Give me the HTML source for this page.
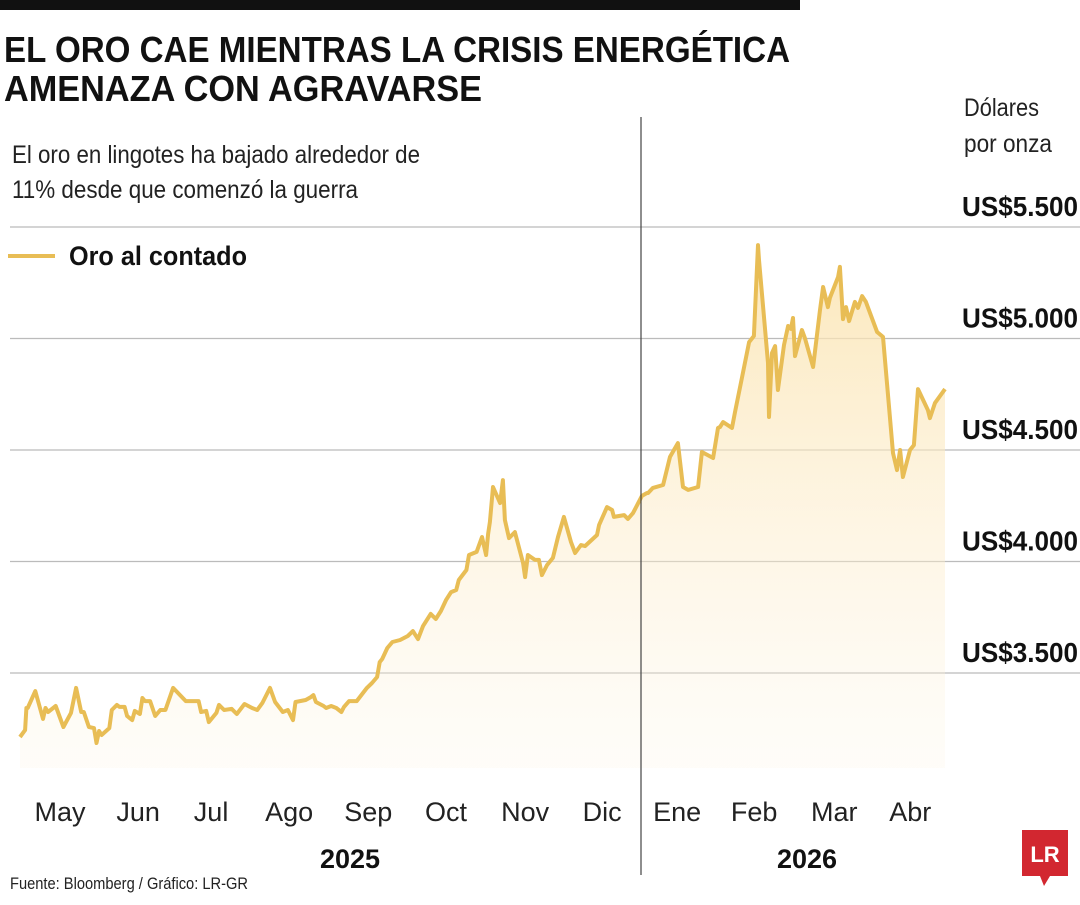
<!DOCTYPE html>
<html><head><meta charset="utf-8"><style>
body{margin:0;background:#fff;}
svg text{font-family:"Liberation Sans Narrow","Liberation Sans",sans-serif;}
</style></head><body>
<svg width="1080" height="900" viewBox="0 0 1080 900" xmlns="http://www.w3.org/2000/svg">
<defs>
<linearGradient id="fillg" x1="0" y1="0" x2="0" y2="1">
<stop offset="0" stop-color="#fbe3ae" stop-opacity="0.85"/>
<stop offset="1" stop-color="#fdf3df" stop-opacity="0.2"/>
</linearGradient>
</defs>
<rect x="0" y="0" width="800" height="10" fill="#111"/>
<text x="4" y="62" font-size="36" font-weight="bold" fill="#111" textLength="786" lengthAdjust="spacingAndGlyphs">EL ORO CAE MIENTRAS LA CRISIS ENERGÉTICA</text>
<text x="4" y="101" font-size="36" font-weight="bold" fill="#111" textLength="478" lengthAdjust="spacingAndGlyphs">AMENAZA CON AGRAVARSE</text>
<text x="12" y="163" font-size="25" fill="#222" textLength="408" lengthAdjust="spacingAndGlyphs">El oro en lingotes ha bajado alrededor de</text>
<text x="12" y="198" font-size="25" fill="#222" textLength="346" lengthAdjust="spacingAndGlyphs">11% desde que comenzó la guerra</text>
<text x="964" y="116" font-size="25" fill="#222" textLength="75" lengthAdjust="spacingAndGlyphs">Dólares</text>
<text x="964" y="152" font-size="25" fill="#222" textLength="88" lengthAdjust="spacingAndGlyphs">por onza</text>
<line x1="8" y1="256" x2="55" y2="256" stroke="#e8bd55" stroke-width="4"/>
<text x="69" y="265" font-size="27" font-weight="bold" fill="#111" textLength="178" lengthAdjust="spacingAndGlyphs">Oro al contado</text>
<g id="grid"></g>
<g id="area"></g>
<line x1="641" y1="117" x2="641" y2="875" stroke="#444" stroke-width="1.2"/>
<g id="months"></g>
<text x="350" y="868" font-size="27" font-weight="bold" fill="#111" text-anchor="middle">2025</text>
<text x="807" y="868" font-size="27" font-weight="bold" fill="#111" text-anchor="middle">2026</text>
<text x="10" y="889" font-size="17" fill="#222" textLength="238" lengthAdjust="spacingAndGlyphs">Fuente: Bloomberg / Gráfico: LR-GR</text>
<g>
<rect x="1022" y="830" width="46" height="46" fill="#d22730"/>
<polygon points="1040,876 1050,876 1044,886" fill="#d22730"/>
<text x="1045" y="862" font-size="22" font-weight="bold" fill="#fff" text-anchor="middle" font-family="Liberation Serif,serif">LR</text>
</g>
</svg>
<script>
const days=[0,2,2.5,3,6,9,10,11,14,17,20,22,24,25,27,29,30,31,32,35,36,38,39,41,42,44,45,47,48,49,51,53,55,57,60,65,70,71,73,74,77,78,80,83,85,88,91,93,95,98,100,103,105,107,108,112,114,115,116,119,120,122,124,126,127,129,132,136,138,140,141,142,144,146,149,152,154,156,158,161,163,165,167,169,171,172,175,176,179,181.1,182.7,183.5,184.2,185.4,188.2,189.3,190.1,191.7,194,197.2,198,199.1,201.9,203.4,204.6,206.6,208.9,210.9,213.2,216,217.6,219.9,221.5,226.2,227,230.1,232.1,232.8,236.8,238.3,240.3,243.8,245.8,246.2,248.1,252.1,254.8,257.9,259.9,261.9,265.8,267.3,271.7,273.6,274.4,275.6,279.1,280.3,283,285.8,287.7,289.3,289.7,293.2,293.6,294.8,296,297.1,299.5,301.1,302.2,303,303.8,306.5,307.7,310.9,313.6,314.8,316.7,317.5,320.7,321.4,322.6,323.8,325,327.3,328.5,330.1,331.6,336,338.3,342.2,343.8,345,346.1,348.9,350.4,352,355.9,356.7,358.7,362.6];
const prices=[3213,3244,3343,3343,3419,3294,3343,3325,3352,3258,3321,3433,3325,3325,3258,3253,3186,3240,3222,3253,3334,3357,3348,3348,3307,3289,3330,3316,3388,3374,3374,3307,3334,3334,3433,3374,3374,3325,3330,3280,3321,3357,3334,3339,3316,3361,3343,3334,3365,3433,3370,3325,3334,3289,3370,3379,3392,3401,3370,3352,3343,3352,3343,3325,3348,3374,3374,3433,3455,3482,3549,3563,3612,3639,3648,3666,3688,3652,3711,3765,3742,3778,3827,3863,3872,3917,3962,4029,4043,4110,4029,4123,4177,4334,4262,4365,4186,4105,4132,3993,3930,4029,4007,4007,3939,3984,4016,4110,4200,4087,4038,4074,4069,4119,4164,4244,4231,4200,4208,4191,4217,4294,4307,4307,4330,4343,4469,4531,4334,4321,4334,4491,4464,4599,4603,4625,4599,4670,4823,4984,5011,5419,5352,4890,4648,4935,4966,4769,4971,5056,5043,5092,4921,5038,5002,4872,5128,5231,5141,5182,5276,5321,5087,5141,5078,5164,5137,5190,5164,5029,5007,4486,4410,4500,4379,4500,4522,4773,4679,4643,4711,4773,4666];
const yTicks=[3500,4000,4500,5000,5500];
const yTickLabels=["US$3.500","US$4.000","US$4.500","US$5.000","US$5.500"];
const months=["May","Jun","Jul","Ago","Sep","Oct","Nov","Dic","Ene","Feb","Mar","Abr"];
const monthDays=[15.7,46.3,74.9,105.5,136.5,167,198,228.2,257.6,287.8,319.2,349];

const NS="http://www.w3.org/2000/svg";
const xS=d=>20+d*2.551;
const yS=v=>673-(v-3500)*0.223;
const grid=document.getElementById('grid');
yTicks.forEach((t,i)=>{
  const l=document.createElementNS(NS,'line');
  l.setAttribute('x1',10);l.setAttribute('x2',1080);
  l.setAttribute('y1',yS(t));l.setAttribute('y2',yS(t));
  l.setAttribute('stroke','#bbb');l.setAttribute('stroke-width','1.2');
  
  
  grid.appendChild(l);
  const tx=document.createElementNS(NS,'text');
  tx.setAttribute('x',962);tx.setAttribute('y',yS(t)-11);
  tx.setAttribute('font-size','28');tx.setAttribute('font-weight','bold');tx.setAttribute('fill','#111');
  tx.setAttribute('textLength','116');tx.setAttribute('lengthAdjust','spacingAndGlyphs');
  tx.textContent=yTickLabels[i];
  
  
  grid.appendChild(tx);
});
const area=document.getElementById('area');
let pts=days.map((d,i)=>xS(d).toFixed(1)+','+yS(prices[i]).toFixed(1));
const fill=document.createElementNS(NS,'polygon');
fill.setAttribute('points',pts.join(' ')+' '+xS(days[days.length-1]).toFixed(1)+',768 '+xS(days[0]).toFixed(1)+',768');
fill.setAttribute('fill','url(#fillg)');


area.appendChild(fill);
const line=document.createElementNS(NS,'polyline');
line.setAttribute('points',pts.join(' '));
line.setAttribute('fill','none');line.setAttribute('stroke','#e8bd55');line.setAttribute('stroke-width','4');
line.setAttribute('stroke-linejoin','round');


area.appendChild(line);
const mg=document.getElementById('months');
months.forEach((m,i)=>{
  const t=document.createElementNS(NS,'text');
  t.setAttribute('x',xS(monthDays[i]));t.setAttribute('y',821);
  t.setAttribute('font-size','27');t.setAttribute('fill','#222');t.setAttribute('text-anchor','middle');
  t.textContent=m;
  
  
  mg.appendChild(t);
});
</script>
</body></html>
